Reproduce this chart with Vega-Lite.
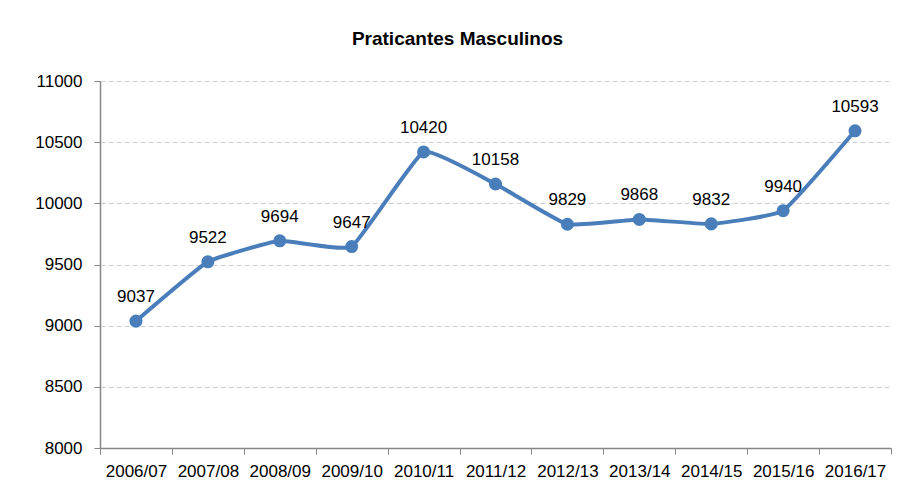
{
  "$schema": "https://vega.github.io/schema/vega-lite/v6.json",
  "width": 791,
  "height": 367,
  "autosize": {"type": "none"},
  "padding": {"left": 100, "top": 81, "right": 8, "bottom": 51},
  "background": "white",
  "title": {
    "text": "Praticantes Masculinos",
    "font": "Liberation Sans",
    "fontSize": 19,
    "fontWeight": "bold",
    "color": "#000000",
    "anchor": "middle",
    "frame": "group",
    "dx": -38,
    "offset": 23
  },
  "data": {
    "values": [
      {"season": "2006/07", "value": 9037},
      {"season": "2007/08", "value": 9522},
      {"season": "2008/09", "value": 9694},
      {"season": "2009/10", "value": 9647},
      {"season": "2010/11", "value": 10420},
      {"season": "2011/12", "value": 10158},
      {"season": "2012/13", "value": 9829},
      {"season": "2013/14", "value": 9868},
      {"season": "2014/15", "value": 9832},
      {"season": "2015/16", "value": 9940},
      {"season": "2016/17", "value": 10593}
    ]
  },
  "encoding": {
    "x": {
      "field": "season",
      "type": "ordinal",
      "sort": null,
      "scale": {"paddingInner": 0, "paddingOuter": 0},
      "axis": {
        "title": null,
        "labelAngle": 0,
        "labelFont": "Liberation Sans",
        "labelFontSize": 17,
        "labelColor": "#000000",
        "labelPadding": 9,
        "domainColor": "#868686",
        "domainWidth": 1.5,
        "tickColor": "#868686",
        "tickBand": "extent",
        "tickSize": 6,
        "grid": false
      }
    },
    "y": {
      "field": "value",
      "type": "quantitative",
      "scale": {"domain": [8000, 11000], "nice": false, "zero": false},
      "axis": {
        "title": null,
        "values": [8000, 8500, 9000, 9500, 10000, 10500, 11000],
        "format": "d",
        "labelFont": "Liberation Sans",
        "labelFontSize": 17,
        "labelColor": "#000000",
        "labelPadding": 12,
        "domainColor": "#868686",
        "domainWidth": 1.5,
        "tickColor": "#868686",
        "tickSize": 6,
        "grid": true,
        "gridColor": "#d0d0d0",
        "gridDash": [5, 3],
        "gridWidth": 1
      }
    }
  },
  "layer": [
    {
      "mark": {"type": "line", "color": "#4a7ebb", "strokeWidth": 4, "interpolate": "cardinal", "tension": 0.65}
    },
    {
      "mark": {"type": "circle", "color": "#4a7ebb", "size": 170, "opacity": 1}
    },
    {
      "mark": {"type": "text", "dy": -24, "font": "Liberation Sans", "fontSize": 17, "color": "#000000"},
      "encoding": {"text": {"field": "value", "type": "quantitative", "format": "d"}}
    }
  ],
  "config": {"view": {"stroke": null}}
}
